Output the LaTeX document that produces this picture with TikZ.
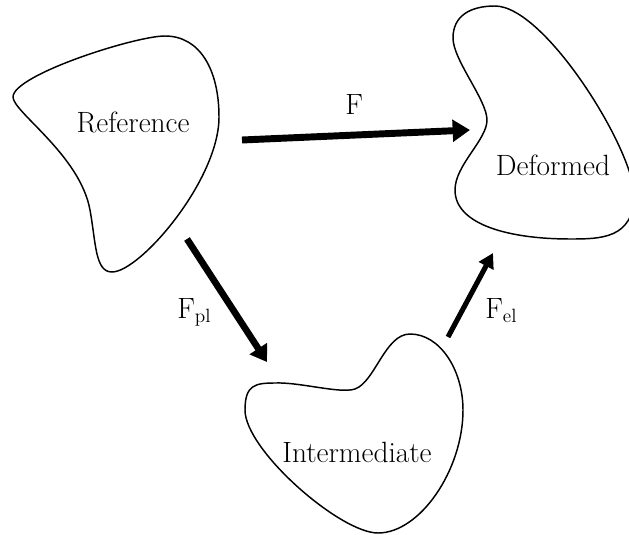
\documentclass[tikz,border=0pt]{standalone}
\usetikzlibrary{arrows.meta}
\begin{document}
\begin{tikzpicture}[x=0.75pt,y=-0.75pt,
  blob/.style={draw=black,line width=1.1pt},
  lbl/.style={font=\fontsize{22}{26}\selectfont,inner sep=0pt},
  bigarrow/.style={line width=5.2pt,-{Triangle[length=13pt,width=16pt]}},
  midarrow/.style={line width=5pt,-{Triangle[length=12pt,width=15pt]}},
  smallarrow/.style={line width=3.8pt,-{Triangle[length=11pt,width=12pt]}}]
\useasboundingbox (0,0) rectangle (629,535);
% Reference blob
\draw[blob] (13,97) .. controls (13,75) and (135,36) .. (165,36)
  .. controls (200,36) and (219,70) .. (219,117)
  .. controls (219,180) and (140,272) .. (112,272)
  .. controls (95,272) and (96,243) .. (90,210)
  .. controls (80,155) and (13,112) .. (13,97) -- cycle;
% Deformed blob
\draw[blob] (495,6) .. controls (545,6) and (634,150) .. (634,195)
  .. controls (634,239) and (600,239) .. (570,239)
  .. controls (510,239) and (455,225) .. (455,190)
  .. controls (455,165) and (487,140) .. (487,120)
  .. controls (487,100) and (453,60) .. (453,38)
  .. controls (453,16) and (470,6) .. (495,6) -- cycle;
% Intermediate blob
\draw[blob] (275,383) .. controls (300,382) and (340,394) .. (355,389)
  .. controls (375,382) and (385,334) .. (410,334)
  .. controls (440,334) and (463,370) .. (463,410)
  .. controls (463,470) and (420,533) .. (378,533)
  .. controls (340,533) and (245,450) .. (245,410)
  .. controls (245,385) and (255,383) .. (275,383) -- cycle;
% labels
\node[lbl] (ref) at (133,122) {Reference};
\node[lbl] (def) at (553,165) {Deformed};
\node[lbl] (int) at (357,452) {Intermediate};
% arrow end points
\coordinate (fa) at (242,140);
\coordinate (fb) at (470,130);
\coordinate (pa) at (187,239);
\coordinate (pb) at (267,362);
\coordinate (ea) at (448,337);
\coordinate (eb) at (493,253);
\draw[bigarrow] (fa) -- (fb);
\draw[midarrow] (pa) -- (pb);
\draw[smallarrow] (ea) -- (eb);
\node[lbl,anchor=base west] (fl) at (345,115) {F};
\node[lbl,anchor=base west] (pl) at (177,318) {F$_{\mathrm{pl}}$};
\node[lbl,anchor=base west] (el) at (485,318) {F$_{\mathrm{el}}$};
\end{tikzpicture}
\end{document}
